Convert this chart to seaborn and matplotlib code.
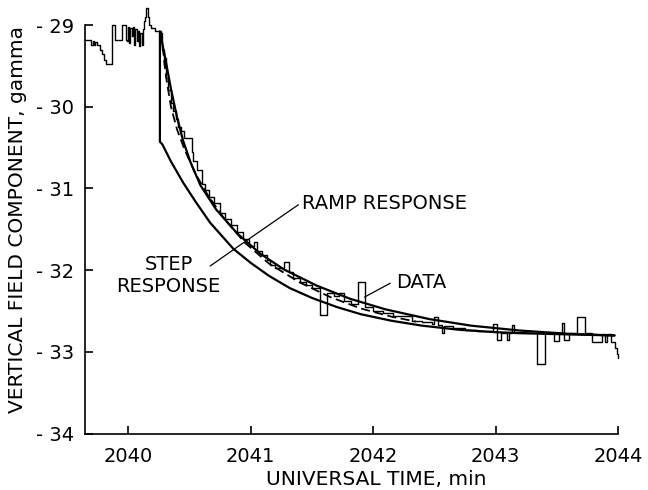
import matplotlib
matplotlib.use("Agg")
import matplotlib.pyplot as plt
import seaborn as sns
import pandas as pd

# ---------------- data ----------------
data_t = [2039.652, 2039.70, 2039.71, 2039.72, 2039.73, 2039.75, 2039.77, 2039.79,
          2039.80, 2039.82, 2039.87, 2039.89, 2039.95, 2039.98, 2039.99, 2040.00,
          2040.01, 2040.02, 2040.03, 2040.04, 2040.05, 2040.06, 2040.07, 2040.08,
          2040.09, 2040.10, 2040.11, 2040.12, 2040.13, 2040.14, 2040.15, 2040.16,
          2040.17, 2040.19, 2040.22, 2040.27, 2040.28, 2040.29, 2040.30, 2040.31,
          2040.33, 2040.35, 2040.37, 2040.39, 2040.41, 2040.43, 2040.46, 2040.52,
          2040.53, 2040.56, 2040.60, 2040.63, 2040.66, 2040.70, 2040.75, 2040.79,
          2040.84, 2040.89, 2040.94, 2040.99, 2041.03, 2041.05, 2041.09, 2041.13,
          2041.16, 2041.20, 2041.27, 2041.31, 2041.35, 2041.40, 2041.45, 2041.50,
          2041.57, 2041.62, 2041.68, 2041.72, 2041.76, 2041.82, 2041.88, 2041.93,
          2042.00, 2042.08, 2042.16, 2042.24, 2042.32, 2042.40, 2042.48, 2042.50,
          2042.53, 2042.56, 2042.58, 2042.65, 2042.75, 2042.85, 2042.98, 2043.01,
          2043.04, 2043.09, 2043.11, 2043.13, 2043.15, 2043.34, 2043.40, 2043.48,
          2043.52, 2043.54, 2043.56, 2043.60, 2043.66, 2043.73, 2043.79, 2043.87,
          2043.89, 2043.91, 2043.94, 2043.97, 2043.99, 2044.00]
data_y = [-29.18, -29.24, -29.19, -29.25, -29.21, -29.24, -29.30, -29.36,
          -29.43, -29.48, -29.00, -29.18, -29.00, -29.18, -29.20, -29.02,
          -29.22, -29.04, -29.14, -29.02, -29.25, -29.05, -29.20, -29.07,
          -29.26, -29.10, -29.24, -29.05, -28.95, -28.90, -28.79, -28.90,
          -29.00, -29.04, -29.07, -29.10, -29.30, -29.50, -29.40, -29.65,
          -29.80, -29.95, -30.05, -30.15, -30.25, -30.30, -30.38, -30.55,
          -30.67, -30.77, -30.94, -31.02, -31.10, -31.18, -31.30, -31.37,
          -31.45, -31.53, -31.62, -31.71, -31.66, -31.76, -31.82, -31.88,
          -31.94, -31.97, -31.90, -32.02, -32.10, -32.14, -32.18, -32.22,
          -32.55, -32.28, -32.32, -32.28, -32.38, -32.42, -32.15, -32.45,
          -32.50, -32.53, -32.56, -32.56, -32.62, -32.64, -32.66, -32.57,
          -32.67, -32.77, -32.69, -32.71, -32.73, -32.75, -32.66, -32.85,
          -32.77, -32.85, -32.77, -32.67, -32.77, -33.15, -32.77, -32.87,
          -32.77, -32.65, -32.85, -32.77, -32.58, -32.77, -32.88, -32.78,
          -32.88, -32.78, -32.88, -32.95, -33.03, -33.08]

step_t = [2040.26, 2040.26, 2040.28, 2040.35, 2040.45, 2040.55, 2040.67, 2040.86,
          2041.00, 2041.15, 2041.32, 2041.50, 2041.70, 2041.90, 2042.15, 2042.40,
          2042.70, 2043.00, 2043.40, 2043.97]
step_y = [-29.08, -30.43, -30.46, -30.67, -30.93, -31.16, -31.42, -31.74,
          -31.91, -32.07, -32.22, -32.34, -32.45, -32.54, -32.62, -32.68,
          -32.73, -32.76, -32.78, -32.80]

ramp_t = [2040.26, 2040.30, 2040.35, 2040.40, 2040.45, 2040.51, 2040.59, 2040.72,
          2040.89, 2041.08, 2041.27, 2041.54, 2041.81, 2042.10, 2042.46, 2042.80,
          2043.20, 2043.60, 2043.97]
ramp_y = [-29.08, -29.38, -29.78, -30.13, -30.42, -30.68, -30.96, -31.26,
          -31.55, -31.80, -31.99, -32.19, -32.35, -32.48, -32.60, -32.68,
          -32.74, -32.78, -32.80]

dash_t = [2040.27, 2040.31, 2040.35, 2040.40, 2040.46, 2040.55, 2040.65, 2040.78,
          2040.95, 2041.15, 2041.40, 2041.65, 2041.90, 2042.15, 2042.35]
dash_y = [-29.10, -29.63, -30.00, -30.28, -30.52, -30.82, -31.08, -31.36,
          -31.66, -31.92, -32.15, -32.33, -32.47, -32.57, -32.63]

x_ticks = [2040, 2041, 2042, 2043, 2044]
y_ticks = [-34, -33, -32, -31, -30, -29]
y_tick_labels = ["- 34", "- 33", "- 32", "- 31", "- 30", "- 29"]

# ---------------- plotting ----------------
sns.set_theme(style="ticks")
plt.rcParams["font.family"] = ["DejaVu Sans"]
plt.rcParams["text.color"] = "black"
plt.rcParams["axes.labelcolor"] = "black"

fig = plt.figure(figsize=(6.48, 4.90), dpi=100)
ax = fig.add_axes([0.1318, 0.1153, 0.8222, 0.8753])

df_data = pd.DataFrame({"t": data_t, "v": data_y})
df_step = pd.DataFrame({"t": step_t, "v": step_y})
df_ramp = pd.DataFrame({"t": ramp_t, "v": ramp_y})
df_dash = pd.DataFrame({"t": dash_t, "v": dash_y})

sns.lineplot(data=df_data, x="t", y="v", ax=ax, color="black", lw=1.0,
             estimator=None, sort=False, drawstyle="steps-post", clip_on=False)
sns.lineplot(data=df_step, x="t", y="v", ax=ax, color="black", lw=1.6,
             estimator=None, sort=False, clip_on=False)
sns.lineplot(data=df_ramp, x="t", y="v", ax=ax, color="black", lw=1.6,
             estimator=None, sort=False, clip_on=False)
sns.lineplot(data=df_dash, x="t", y="v", ax=ax, color="black", lw=1.3,
             estimator=None, sort=False, dashes=False, clip_on=False)
ax.lines[-1].set_dashes((5, 2.5))

ax.set_xlim(2039.652, 2044.0)
ax.set_ylim(-34, -28.75)
ax.set_xticks(x_ticks)
ax.set_xticklabels([str(v) for v in x_ticks])
ax.set_yticks(y_ticks)
ax.set_yticklabels(y_tick_labels)
ax.tick_params(direction="in", length=6, width=1.2, labelsize=14,
               colors="black")
ax.tick_params(axis="x", pad=10)
ax.tick_params(axis="y", pad=8)

for s in ["top", "right"]:
    ax.spines[s].set_visible(False)
for s in ["left", "bottom"]:
    ax.spines[s].set_linewidth(1.2)
    ax.spines[s].set_color("black")
ax.spines["left"].set_bounds(-34, -29)
ax.spines["bottom"].set_bounds(2039.652, 2044.0)

ax.set_xlabel("UNIVERSAL TIME, min", fontsize=14.5, va="center", color="black")
ax.xaxis.set_label_coords(0.546, -0.108)
ax.set_ylabel("VERTICAL FIELD COMPONENT, gamma", fontsize=14.5, va="center",
              color="black")
ax.yaxis.set_label_coords(-0.128, 0.5)

# annotations
ax.text(2041.42, -31.18, "RAMP RESPONSE", fontsize=14, ha="left", va="center",
        color="black")
ax.text(2040.33, -32.07, "STEP\nRESPONSE", fontsize=14, ha="center",
        va="center", multialignment="center", color="black")
ax.text(2042.19, -32.15, "DATA", fontsize=14, ha="left", va="center",
        color="black")
ax.plot([2041.39, 2040.86], [-31.20, -31.75], color="black", lw=0.9)
ax.plot([2040.67, 2040.86], [-31.95, -31.75], color="black", lw=0.9)
ax.plot([2042.14, 2041.93], [-32.16, -32.33], color="black", lw=0.9)

fig.savefig("out.png", dpi=100, facecolor="white")
